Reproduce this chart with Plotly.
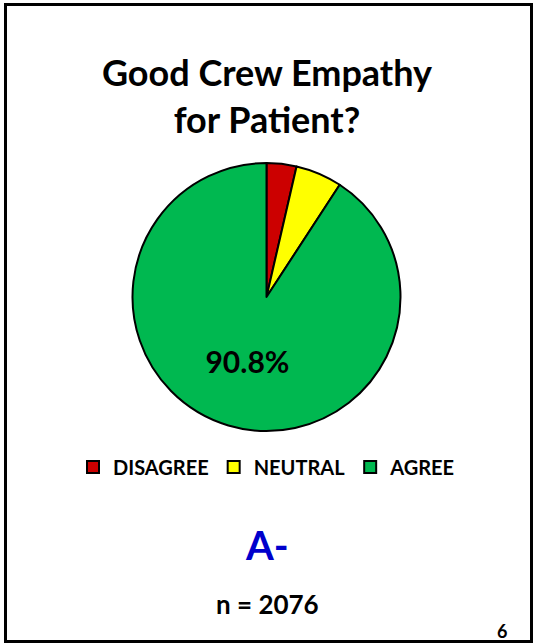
import plotly.graph_objects as go

categories = ["DISAGREE", "NEUTRAL", "AGREE"]
values = [3.6, 5.6, 90.8]
colors = ["#CC0000", "#FFFF00", "#00B850"]
slice_labels = ["", "", "90.8%"]
title_text = "Good Crew Empathy<br>for Patient?"
grade_text = "A-"
n_text = "n = 2076"
page_text = "6"

W, H = 534, 644
FONT = "Lato"

fig = go.Figure(go.Pie(
    labels=categories,
    values=values,
    text=slice_labels,
    textinfo="text",
    textposition="inside",
    insidetextorientation="horizontal",
    textfont=dict(family=FONT, size=30, color="black", weight="bold"),
    marker=dict(colors=colors, line=dict(color="black", width=2)),
    sort=False,
    direction="clockwise",
    rotation=0,
    hoverinfo="label+percent",
    domain=dict(x=[132.5 / W, 400.5 / W], y=[1 - 431 / H, 1 - 163 / H]),
))

fig.update_layout(
    width=W, height=H,
    margin=dict(l=0, r=0, t=0, b=0),
    paper_bgcolor="white",
    plot_bgcolor="white",
    title=dict(text=title_text, x=0.5, xanchor="center", y=1 - 86 / H, yanchor="middle",
               font=dict(family=FONT, size=36, color="black", weight="bold")),
    showlegend=True,
    legend=dict(orientation="h", x=0.5, xanchor="center", y=1 - 467 / H, yanchor="middle",
                font=dict(family=FONT, size=20, color="black", weight="bold"),
                itemwidth=30, traceorder="normal"),
    annotations=[
        dict(text=grade_text, x=0.5, y=1 - 545 / H, xref="paper", yref="paper", showarrow=False,
             font=dict(family=FONT, size=40, color="#0000CC", weight="bold"), xanchor="center", yanchor="middle"),
        dict(text=n_text, x=0.5, y=1 - 604 / H, xref="paper", yref="paper", showarrow=False,
             font=dict(family=FONT, size=26, color="black", weight="bold"), xanchor="center", yanchor="middle"),
        dict(text=page_text, x=502 / W, y=1 - 631 / H, xref="paper", yref="paper", showarrow=False,
             font=dict(family=FONT, size=18, color="black", weight="bold"), xanchor="center", yanchor="middle"),
    ],
    shapes=[dict(type="rect", xref="paper", yref="paper",
                 x0=5.5 / W, x1=531.5 / W, y0=1 - 641.5 / H, y1=1 - 4.5 / H,
                 line=dict(color="black", width=3), fillcolor="rgba(0,0,0,0)")],
)

fig.write_html("out.html",
               config={"displayModeBar": False},
               post_script="document.body.style.margin='0';document.body.style.padding='0';"
                           "document.body.style.overflow='hidden';")
